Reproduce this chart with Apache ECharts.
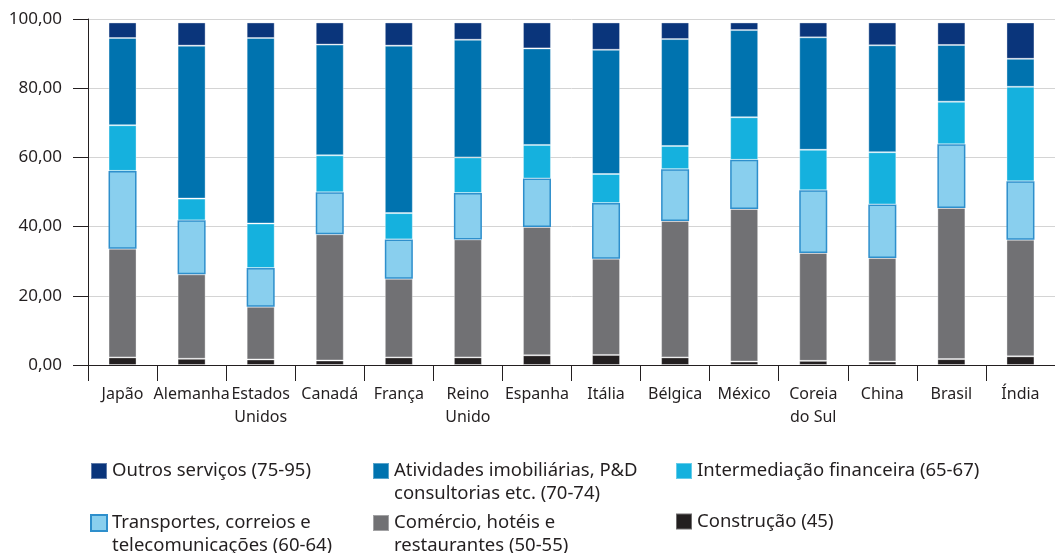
<!DOCTYPE html>
<html>
<head>
<meta charset="utf-8">
<script src="https://cdn.jsdelivr.net/npm/echarts@6/dist/echarts.min.js"></script>
<style>
  html, body { margin: 0; padding: 0; background: #fff; }
  #main { width: 1055px; height: 553px; }
</style>
</head>
<body>
<div id="main"></div>
<script>
  // países (eixo x)
  var categories = ['Japão', 'Alemanha', 'Estados\nUnidos', 'Canadá', 'França', 'Reino\nUnido', 'Espanha',
    'Itália', 'Bélgica', 'México', 'Coreia\ndo Sul', 'China', 'Brasil', 'Índia'];

  // participação de cada setor (%), de baixo para cima
  var construcao    = [2.2, 1.8, 1.6, 1.3, 2.2, 2.2, 2.8, 2.9, 2.2, 1.0, 1.2, 1.0, 1.7, 2.5];
  var comercio      = [31.4, 24.4, 15.2, 36.5, 22.7, 34.1, 37.1, 27.8, 39.4, 44.1, 31.2, 29.9, 43.7, 33.7];
  var transportes   = [22.5, 15.6, 11.2, 12.1, 11.4, 13.4, 14.0, 16.1, 15.0, 14.2, 18.1, 15.5, 18.4, 16.9];
  var intermediacao = [13.2, 6.3, 12.9, 10.7, 7.6, 10.3, 9.7, 8.4, 6.7, 12.3, 11.7, 15.1, 12.3, 27.3];
  var atividades    = [25.2, 44.2, 53.6, 32.0, 48.4, 34.0, 27.9, 35.9, 30.9, 25.2, 32.5, 30.9, 16.4, 8.1];
  var outros        = [4.5, 6.7, 4.5, 6.4, 6.7, 5.0, 7.5, 7.9, 4.8, 2.2, 4.3, 6.6, 6.5, 10.5];

  var yTicks = [0, 20, 40, 60, 80, 100];

  var myChart = echarts.init(document.getElementById('main'));
  var fonte = '"Noto Sans", sans-serif';

  function serie (name, data, color, border) {
    return {
      name: name,
      type: 'bar',
      stack: 'total',
      barWidth: 28,
      data: data,
      itemStyle: {
        color: color,
        borderColor: border || 'rgba(255,255,255,0.35)',
        borderWidth: border ? 1.5 : 1
      }
    }
  }

  // uma legenda por item, para posicionar igual à figura
  function legenda (name, left, top) {
    return {
      data: [name],
      left: left,
      top: top,
      padding: 0,
      itemWidth: 16,
      itemHeight: 16,
      itemGap: 0,
      selectedMode: false,
      icon: 'rect',
      // linha vazia no início: o ícone fica alinhado com a primeira linha do texto
      formatter: function (n) {
        return n.indexOf('\n') >= 0 ? '\n' + n : n
      },
      textStyle: {
        fontFamily: fonte,
        fontSize: 18.5,
        color: '#231f20',
        lineHeight: 23
      }
    }
  }

  var option = {
    animation: false,
    grid: {
      left: 88,
      top: 19,
      width: 976,
      height: 346,
      containLabel: false
    },
    legend: [
      legenda('Outros serviços (75-95)', 90, 459.5),
      legenda('Atividades imobiliárias, P&D\nconsultorias etc. (70-74)', 372, 436.5),
      legenda('Intermediação financeira (65-67)', 675, 459.5),
      legenda('Transportes, correios e\ntelecomunicações (60-64)', 90, 488.5),
      legenda('Comércio, hotéis e\nrestaurantes (50-55)', 372, 488.5),
      legenda('Construção (45)', 675, 510)
    ],
    xAxis: {
      type: 'category',
      data: categories,
      boundaryGap: true,
      axisLine: { lineStyle: { color: '#231f20', width: 1 } },
      axisTick: { show: true, length: 16, lineStyle: { color: '#231f20' } },
      axisLabel: {
        color: '#231f20',
        fontFamily: fonte,
        fontSize: 16,
        lineHeight: 23,
        margin: 18,
        interval: 0
      }
    },
    yAxis: {
      type: 'value',
      min: 0,
      max: 100,
      interval: 20,
      axisLine: { show: true, lineStyle: { color: '#231f20', width: 1 } },
      axisTick: { show: true, length: 15, lineStyle: { color: '#231f20' } },
      splitLine: { lineStyle: { color: '#d4d4d4', width: 1 } },
      axisLabel: {
        color: '#231f20',
        fontFamily: fonte,
        fontSize: 17,
        margin: 26,
        formatter: function (v) {
          return yTicks.indexOf(v) >= 0 ? v.toFixed(2).replace('.', ',') : ''
        }
      }
    },
    series: [
      serie('Construção (45)', construcao, '#231f20'),
      serie('Comércio, hotéis e\nrestaurantes (50-55)', comercio, '#717174'),
      serie('Transportes, correios e\ntelecomunicações (60-64)', transportes, '#89cfee', '#2e8fcc'),
      serie('Intermediação financeira (65-67)', intermediacao, '#15b1de'),
      serie('Atividades imobiliárias, P&D\nconsultorias etc. (70-74)', atividades, '#0073af'),
      serie('Outros serviços (75-95)', outros, '#0a357b')
    ]
  };

  myChart.setOption(option);
</script>
</body>
</html>
